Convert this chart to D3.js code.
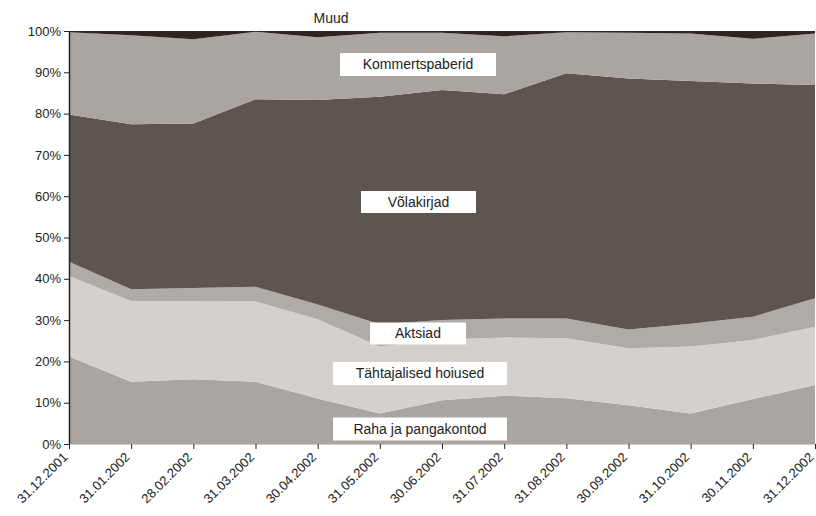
<!DOCTYPE html>
<html>
<head>
<meta charset="utf-8">
<script src="https://cdn.jsdelivr.net/npm/d3@7"></script>
<style>
  html, body { margin: 0; padding: 0; background: #fff; }
  svg { display: block; font-family: "Liberation Sans", Arial, sans-serif; }
</style>
</head>
<body>
<svg id="chart" width="816" height="516"></svg>
<script>
// Fund portfolio structure, share of assets (%)
const dates = ["31.12.2001", "31.01.2002", "28.02.2002", "31.03.2002", "30.04.2002", "31.05.2002",
  "30.06.2002", "31.07.2002", "31.08.2002", "30.09.2002", "31.10.2002", "30.11.2002", "31.12.2002"];

const raha        = [21.2, 15.1, 15.7, 15.1, 11.0, 7.4, 10.6, 11.7, 11.1, 9.4, 7.4, 10.9, 14.3];
const tahtajalised = [19.5, 19.5, 18.9, 19.4, 19.2, 16.2, 14.7, 14.1, 14.5, 13.8, 16.2, 14.3, 14.1];
const aktsiad     = [3.4, 2.9, 3.2, 3.6, 3.6, 5.4, 4.7, 4.6, 4.8, 4.5, 5.5, 5.6, 6.9];
const volakirjad  = [35.7, 39.9, 39.8, 45.4, 49.5, 55.1, 55.7, 54.3, 59.4, 60.8, 58.8, 56.5, 51.6];
const kommerts    = [19.9, 21.6, 20.4, 16.3, 15.2, 15.5, 13.9, 14.0, 9.9, 11.1, 11.5, 10.8, 12.5];
const muud        = [0.3, 1.0, 2.0, 0.2, 1.5, 0.4, 0.4, 1.3, 0.3, 0.4, 0.6, 1.9, 0.6];

const seriesNames = ["Raha ja pangakontod", "Tähtajalised hoiused", "Aktsiad", "Võlakirjad", "Kommertspaberid", "Muud"];
const seriesValues = [raha, tahtajalised, aktsiad, volakirjad, kommerts, muud];
const seriesColors = ["#aaa5a1", "#d3d0cd", "#b0aba7", "#5f5550", "#aaa5a1", "#2e2520"];
const yTicks = [0, 10, 20, 30, 40, 50, 60, 70, 80, 90, 100];

const rows = dates.map((d, i) => {
  const r = { date: d };
  seriesNames.forEach((n, k) => { r[n] = seriesValues[k][i]; });
  return r;
});

const svg = d3.select("#chart");
const x = d3.scalePoint().domain(dates).range([69, 815]);
const y = d3.scaleLinear().domain([0, 100]).range([444, 31]);

const stack = d3.stack().keys(seriesNames)
  .offset(d3.stackOffsetExpand);
const layers = stack(rows);

const area = d3.area()
  .x(d => x(d.data.date))
  .y0(d => y(d[0] * 100))
  .y1(d => y(d[1] * 100));

svg.append("g").selectAll("path")
  .data(layers)
  .join("path")
  .attr("d", area)
  .attr("fill", (d, i) => seriesColors[i]);

// Axes
const yAxis = d3.axisLeft(y).tickValues(yTicks).tickFormat(d => d + "%").tickSize(5).tickSizeOuter(0);
const gy = svg.append("g").attr("transform", "translate(69,0)").call(yAxis);
gy.select(".domain").attr("stroke", "#222").attr("stroke-width", 1.5);
gy.selectAll(".tick line").attr("stroke", "#222");
gy.selectAll(".tick text").attr("font-size", 13).attr("fill", "#222").attr("x", -8)
  .attr("font-family", "Liberation Sans, Arial, sans-serif");

const xAxis = d3.axisBottom(x).tickSize(5).tickSizeOuter(0);
const gx = svg.append("g").attr("transform", "translate(0,444)").call(xAxis);
gx.select(".domain").attr("stroke", "#ccc").attr("stroke-width", 1);
gx.selectAll(".tick line").attr("stroke", "#222");
gx.selectAll(".tick text")
  .attr("font-size", 13)
  .attr("fill", "#222")
  .attr("font-family", "Liberation Sans, Arial, sans-serif")
  .attr("text-anchor", "end")
  .attr("dy", null)
  .attr("y", 0)
  .attr("transform", "translate(-1,14) rotate(-45)");

// Series labels in white boxes
const labels = [
  { text: "Kommertspaberid", cx: 418, cy: 64.5, w: 156, h: 23, box: true },
  { text: "Võlakirjad", cx: 418.5, cy: 202, w: 115, h: 22, box: true },
  { text: "Aktsiad", cx: 418, cy: 333.5, w: 96, h: 22, box: true },
  { text: "Tähtajalised hoiused", cx: 420, cy: 373.5, w: 174, h: 23, box: true },
  { text: "Raha ja pangakontod", cx: 420, cy: 429, w: 174, h: 23, box: true },
  { text: "Muud", cx: 331, cy: 18, w: 0, h: 0, box: false }
];
const lg = svg.append("g");
labels.forEach(l => {
  if (l.box) {
    lg.append("rect").attr("x", l.cx - l.w / 2).attr("y", l.cy - l.h / 2)
      .attr("width", l.w).attr("height", l.h).attr("fill", "#fff");
  }
  lg.append("text").attr("x", l.cx).attr("y", l.cy).attr("dy", "0.35em")
    .attr("text-anchor", "middle").attr("font-size", 14).attr("fill", "#222")
    .text(l.text);
});
</script>
</body>
</html>
